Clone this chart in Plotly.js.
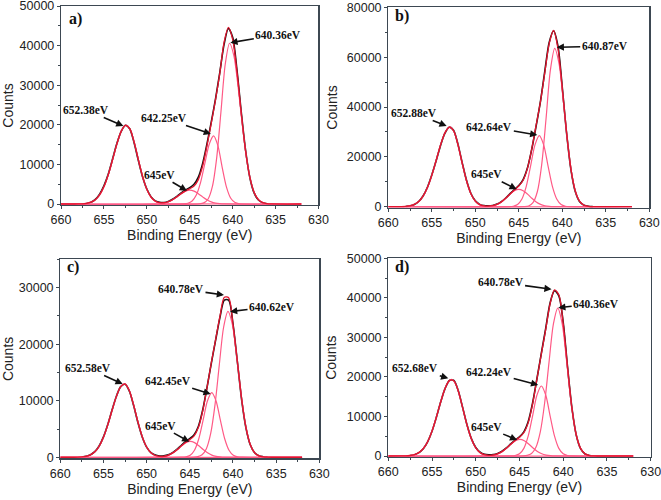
<!DOCTYPE html>
<html>
<head>
<meta charset="utf-8">
<script src="https://cdn.plot.ly/plotly-3.0.1.min.js"></script>
<style>html,body{margin:0;padding:0;background:#fff;}#chart{width:661px;height:500px;}</style>
</head>
<body>
<div id="chart"></div>
<script>
// ---------- DATA ----------
const energy = [660, 658.5, 658, 657.5, 657, 656.5, 656, 655.5, 655, 654.5, 654, 653.5, 653, 652.5, 652, 651.5, 651, 650.5, 650, 649.5, 649, 648.5, 648, 647.5, 647, 646.5, 646, 645.5, 645, 644.5, 644, 643.5, 643, 642.5, 642, 641.5, 641, 640.5, 640, 639.5, 639, 638.5, 638, 637.5, 637, 636.5, 636, 635.5, 632];

// panel a
const aFit = [0, 5, 18, 58, 175, 460, 1080, 2290, 4330, 7320, 11110, 15060, 18270, 19840, 19070, 15830, 11330, 6990, 3730, 1710, 710, 325, 313, 570, 1070, 1800, 2600, 3330, 3860, 4525, 6160, 9550, 14615, 20290, 26300, 33000, 40800, 44600, 41600, 33500, 23000, 13500, 6850, 2970, 1100, 345, 93, 20, 0];
const aExp = [null, null, null, 40, 150, 420, 1150, 2500, 4600, 7500, 11300, 15200, 18300, 19900, 19000, 15600, 11100, 6900, 3800, 1800, 800, 420, 380, 650, 1200, 1950, 2800, 3550, 4150, 5000, 6800, 10200, 15100, 20600, 26500, 33200, 40300, 44300, 42100, 33900, 23300, 13700, 6700, 2800, 1000, 300, 60, null, null];
const aC1X = [660, 657.88, 657.38, 656.88, 656.38, 655.88, 655.38, 654.88, 654.38, 653.88, 653.38, 652.88, 652.38, 651.88, 651.38, 650.88, 650.38, 649.88, 649.38, 648.88, 648.38, 647.88, 647.38, 632];
const aC1Y = [0, 25, 80, 220, 570, 1310, 2690, 4960, 8180, 12080, 15940, 18830, 19900, 18490, 14810, 10230, 6090, 3120, 1390, 530, 175, 50, 12, 0];
const aC2X = [660, 649, 648.5, 648, 647.5, 647, 646.5, 646, 645.5, 645, 644.5, 644, 643.5, 643, 642.5, 642, 641.5, 641, 632];
const aC2Y = [0, 30, 95, 245, 550, 1070, 1800, 2600, 3250, 3500, 3250, 2600, 1800, 1070, 550, 245, 95, 30, 0];
const aC3X = [660, 645.72, 645.22, 644.72, 644.22, 643.72, 643.22, 642.72, 642.22, 641.72, 641.22, 640.72, 640.22, 639.72, 639.22, 632];
const aC3Y = [0, 35, 190, 760, 2320, 5590, 10440, 15170, 17200, 14740, 9270, 4280, 1460, 360, 70, 0];
const aC4X = [660, 643.86, 643.36, 642.86, 642.36, 641.86, 641.36, 640.86, 640.36, 639.86, 639.36, 638.86, 638.36, 637.86, 637.36, 636.86, 636.36, 635.86, 632];
const aC4Y = [0, 45, 280, 1270, 4430, 11650, 23350, 35360, 40600, 37470, 29480, 19770, 11290, 5480, 2270, 810, 240, 60, 0];

// panel b
const bFit = [0, 45, 136, 377, 937, 2090, 4220, 7670, 12570, 18540, 24650, 29540, 31900, 30560, 24970, 17400, 10330, 5220, 2250, 830, 302, 210, 405, 940, 1930, 3380, 5105, 6720, 8290, 10630, 15475, 23365, 32810, 42330, 54000, 65500, 70700, 63500, 47500, 29500, 15000, 6240, 2110, 580, 130, 25, 5, 0, 0];
const bExp = [null, null, 100, 330, 900, 2100, 4300, 7800, 12700, 18400, 24500, 29400, 31900, 30700, 25200, 17600, 10500, 5300, 2350, 950, 420, 330, 520, 1050, 2050, 3500, 5250, 6900, 8500, 10900, 15600, 23200, 32500, 42500, 54600, 66000, 70600, 64500, 47800, 29300, 14700, 6000, 2000, 600, 150, 40, null, null, null];
const bC1X = [660, 658.38, 657.88, 657.38, 656.88, 656.38, 655.88, 655.38, 654.88, 654.38, 653.88, 653.38, 652.88, 652.38, 651.88, 651.38, 650.88, 650.38, 649.88, 649.38, 648.88, 648.38, 632];
const bC1Y = [0, 60, 175, 475, 1150, 2500, 4910, 8710, 13920, 20030, 25990, 30370, 32000, 29540, 23230, 15580, 8900, 4320, 1790, 640, 190, 50, 0];
const bC2X = [660, 649, 648.5, 648, 647.5, 647, 646.5, 646, 645.5, 645, 644.5, 644, 643.5, 643, 642.5, 642, 641.5, 641, 632];
const bC2Y = [0, 42, 140, 390, 940, 1930, 3380, 5050, 6410, 6950, 6410, 5050, 3380, 1930, 940, 390, 140, 42, 0];
const bC3X = [660, 646.14, 645.64, 645.14, 644.64, 644.14, 643.64, 643.14, 642.64, 642.14, 641.64, 641.14, 640.64, 640.14, 639.64, 639.14, 632];
const bC3Y = [0, 31, 194, 890, 3110, 8180, 16390, 24820, 28500, 24820, 16390, 8180, 3110, 890, 194, 31, 0];
const bC4X = [660, 644.37, 643.87, 643.37, 642.87, 642.37, 641.87, 641.37, 640.87, 640.37, 639.87, 639.37, 638.87, 638.37, 637.87, 637.37, 636.87, 632];
const bC4Y = [0, 45, 310, 1590, 5990, 16810, 35170, 54780, 63500, 57280, 42030, 25080, 12170, 4800, 1540, 400, 85, 0];

// panel c
const cFit = [0, 5, 19, 60, 170, 430, 965, 1955, 3540, 5730, 8310, 10770, 12500, 12980, 11770, 9210, 6210, 3610, 1810, 785, 310, 145, 169, 350, 730, 1300, 1970, 2608, 3120, 3784, 5299, 8250, 12370, 16800, 20900, 25000, 28300, 28200, 23500, 17100, 10400, 5310, 2270, 810, 240, 59, 12, 0, 0];
const cExp = [null, null, null, 60, 190, 460, 1000, 2000, 3600, 5800, 8400, 10800, 12500, 12900, 11700, 9100, 6100, 3550, 1800, 820, 380, 230, 260, 440, 820, 1400, 2080, 2750, 3300, 4000, 5500, 8400, 12400, 16700, 20800, 24800, 27800, 27800, 23600, 17000, 10200, 5200, 2200, 800, 260, 100, 40, null, null];
const cC1X = [660, 657.58, 657.08, 656.58, 656.08, 655.58, 655.08, 654.58, 654.08, 653.58, 653.08, 652.58, 652.08, 651.58, 651.08, 650.58, 650.08, 649.58, 649.08, 648.58, 648.08, 632];
const cC1Y = [0, 50, 145, 375, 860, 1760, 3240, 5340, 7890, 10410, 12300, 13000, 12080, 9670, 6680, 3980, 2040, 910, 350, 115, 30, 0];
const cC2X = [660, 648.95, 648.45, 647.95, 647.45, 646.95, 646.45, 645.95, 645.45, 644.95, 644.45, 643.95, 643.45, 642.95, 642.45, 641.95, 641.45, 640.95, 632];
const cC2Y = [0, 17, 56, 157, 380, 780, 1360, 2030, 2585, 2800, 2585, 2030, 1360, 780, 380, 157, 56, 17, 0];
const cC3X = [660, 645.96, 645.46, 644.96, 644.46, 643.96, 643.46, 642.96, 642.46, 641.96, 641.46, 640.96, 640.46, 639.96, 639.46, 638.96, 632];
const cC3Y = [0, 13, 78, 360, 1250, 3280, 6570, 9960, 11430, 9960, 6570, 3280, 1250, 360, 78, 13, 0];
const cC4X = [660, 644.58, 644.08, 643.58, 643.08, 642.58, 642.08, 641.58, 641.08, 640.58, 640.08, 639.58, 639.08, 638.58, 638.08, 637.58, 637.08, 636.58, 636.08, 632];
const cC4Y = [0, 18, 100, 436, 1520, 4210, 9300, 16390, 23040, 25800, 23550, 17910, 11350, 5990, 2630, 965, 294, 75, 15, 0];

// panel d
const dFit = [0, 12, 42, 130, 350, 850, 1855, 3610, 6300, 9820, 13710, 17120, 19130, 19050, 16430, 12220, 7840, 4340, 2070, 850, 322, 168, 239, 525, 1100, 1950, 2970, 3930, 4754, 5900, 8440, 13190, 19525, 25845, 32000, 38500, 42000, 40800, 33500, 22300, 12000, 5250, 1870, 535, 122, 22, 4, 0, 0];
const dExp = [null, null, null, 120, 340, 840, 1850, 3600, 6250, 9800, 13700, 17100, 19100, 19100, 16500, 12300, 7900, 4400, 2150, 950, 420, 280, 350, 640, 1200, 2050, 3050, 4000, 4850, 6100, 8700, 13400, 19600, 26000, 32300, 38700, 41800, 40500, 33800, 22400, 12100, 5200, 1800, 500, 150, 40, null, null, null];
const dC1X = [660, 657.75, 657.25, 656.75, 656.25, 655.75, 655.25, 654.75, 654.25, 653.75, 653.25, 652.75, 652.25, 651.75, 651.25, 650.75, 650.25, 649.75, 649.25, 648.75, 648.25, 632];
const dC1Y = [0, 78, 215, 560, 1280, 2620, 4830, 7970, 11780, 15540, 18350, 19400, 18020, 14430, 9970, 5940, 3050, 1360, 520, 175, 50, 0];
const dC2X = [660, 648.95, 648.45, 647.95, 647.45, 646.95, 646.45, 645.95, 645.45, 644.95, 644.45, 643.95, 643.45, 642.95, 642.45, 641.95, 641.45, 640.95, 632];
const dC2Y = [0, 25, 84, 235, 570, 1170, 2040, 3050, 3880, 4200, 3880, 3050, 2040, 1170, 570, 235, 84, 25, 0];
const dC3X = [660, 646, 645.5, 645, 644.5, 644, 643.5, 643, 642.5, 642, 641.5, 641, 640.5, 640, 639.5, 639, 632];
const dC3Y = [0, 20, 120, 554, 1930, 5080, 10180, 15420, 17700, 15420, 10180, 5080, 1930, 554, 120, 20, 0];
const dC4X = [660, 644.62, 644.12, 643.62, 643.12, 642.62, 642.12, 641.62, 641.12, 640.62, 640.12, 639.62, 639.12, 638.62, 638.12, 637.62, 637.12, 636.62, 632];
const dC4Y = [0, 26, 146, 630, 2200, 6100, 13460, 23750, 33400, 37400, 33510, 24160, 13990, 6510, 2430, 733, 176, 33, 0];

// labels
const panelLetters = ['a)', 'b)', 'c)', 'd)'];
const xTickVals = [660, 655, 650, 645, 640, 635, 630];
const aPeakLabels = ['652.38eV', '645eV', '642.25eV', '640.36eV'];
const bPeakLabels = ['652.88eV', '645eV', '642.64eV', '640.87eV'];
const cPeakLabels = ['652.58eV', '645eV', '642.45eV', '640.78eV', '640.62eV'];
const dPeakLabels = ['652.68eV', '645eV', '642.24eV', '640.78eV', '640.36eV'];

// ---------- STYLE ----------
const PINK = '#ff5a86';
const RED = '#e3142e';
const BLACK = '#111111';
const FRAME = '#3d4852';
const SANS = 'Liberation Sans, Arial, sans-serif';
const SERIF = 'Liberation Serif, Times New Roman, serif';

const traces = [];
function addPanel(n, fit, exp, comps) {
  const xa = n === 1 ? 'x' : 'x' + n;
  const ya = n === 1 ? 'y' : 'y' + n;
  traces.push({x: energy, y: exp, xaxis: xa, yaxis: ya, mode: 'lines', connectgaps: false,
    line: {color: BLACK, width: 1.6, shape: 'spline', smoothing: 0.8}, hoverinfo: 'skip', showlegend: false});
  comps.forEach(c => traces.push({x: c[0], y: c[1], xaxis: xa, yaxis: ya, mode: 'lines',
    line: {color: PINK, width: 1.2, shape: 'spline', smoothing: 0.8}, hoverinfo: 'skip', showlegend: false}));
  traces.push({x: energy, y: fit, xaxis: xa, yaxis: ya, mode: 'lines',
    line: {color: RED, width: 1.3, shape: 'spline', smoothing: 0.8}, hoverinfo: 'skip', showlegend: false});
}
addPanel(1, aFit, aExp, [[aC1X, aC1Y], [aC2X, aC2Y], [aC3X, aC3Y], [aC4X, aC4Y]]);
addPanel(2, bFit, bExp, [[bC1X, bC1Y], [bC2X, bC2Y], [bC3X, bC3Y], [bC4X, bC4Y]]);
addPanel(3, cFit, cExp, [[cC1X, cC1Y], [cC2X, cC2Y], [cC3X, cC3Y], [cC4X, cC4Y]]);
addPanel(4, dFit, dExp, [[dC1X, dC1Y], [dC2X, dC2Y], [dC3X, dC3Y], [dC4X, dC4Y]]);

function xAxis(domain, anchor) {
  return {domain: domain, anchor: anchor, range: [660, 630], tickvals: xTickVals,
    showline: true, mirror: true, linecolor: FRAME, linewidth: 1.2,
    ticks: 'outside', ticklen: 3, tickcolor: FRAME, tickwidth: 1,
    minor: {dtick: 2.5, tick0: 630, ticks: 'outside', ticklen: 2, tickcolor: FRAME},
    showgrid: false, zeroline: false, ticklabeloverflow: 'allow',
    tickfont: {family: SANS, size: 12.5, color: '#222'},
    title: {text: 'Binding Energy (eV)', font: {family: SANS, size: 14, color: '#222'}, standoff: 1}};
}
function yAxis(domain, anchor, range, dtick) {
  return {domain: domain, anchor: anchor, range: range, tick0: 0, dtick: dtick, tickformat: 'd',
    showline: true, mirror: true, linecolor: FRAME, linewidth: 1.2,
    ticks: 'outside', ticklen: 3, tickcolor: FRAME, tickwidth: 1,
    minor: {dtick: dtick / 2, ticks: 'outside', ticklen: 2, tickcolor: FRAME},
    showgrid: false, zeroline: false, ticklabeloverflow: 'allow',
    tickfont: {family: SANS, size: 12.5, color: '#222'},
    title: {text: 'Counts', font: {family: SANS, size: 14, color: '#222'}, standoff: 6}};
}

function peak(n, x, y, text, ax, ay) {
  const xa = n === 1 ? 'x' : 'x' + n;
  const ya = n === 1 ? 'y' : 'y' + n;
  return {xref: xa, yref: ya, x: x, y: y, text: text, showarrow: true, ax: ax, ay: ay,
    arrowhead: 2, arrowsize: 0.9, arrowwidth: 1.6, arrowcolor: BLACK,
    font: {family: SERIF, size: 11.5, color: BLACK, weight: 'bold'}};
}
function letter(i, px, py) {
  return {xref: 'paper', yref: 'paper', x: px / 661, y: 1 - py / 500, xanchor: 'center', yanchor: 'middle',
    text: panelLetters[i], showarrow: false, font: {family: SERIF, size: 16, color: BLACK, weight: 'bold'}};
}

const annotations = [
  letter(0, 75, 19), letter(1, 402, 16), letter(2, 73, 267), letter(3, 402, 267),
  peak(1, 652.73, 19700, aPeakLabels[0], -37, -16),
  peak(1, 645.33, 3360, aPeakLabels[1], -27, -16),
  peak(1, 642.53, 17700, aPeakLabels[2], -47, -16),
  peak(1, 640.27, 40730, aPeakLabels[3], 48, -8),
  peak(2, 653.29, 32380, bPeakLabels[0], -33, -13),
  peak(2, 645.24, 6980, bPeakLabels[1], -30, -15),
  peak(2, 642.87, 28770, bPeakLabels[2], -48, -8),
  peak(2, 640.64, 63950, bPeakLabels[3], 48, -1),
  peak(3, 652.77, 12970, cPeakLabels[0], -35, -16),
  peak(3, 645.06, 2760, cPeakLabels[1], -29, -16),
  peak(3, 642.58, 11200, cPeakLabels[2], -43, -13),
  peak(3, 641.04, 28710, cPeakLabels[3], -43, -6),
  peak(3, 640.34, 25760, cPeakLabels[4], 42, -5),
  peak(4, 653.14, 19650, dPeakLabels[0], -33, -10),
  peak(4, 645.26, 4050, dPeakLabels[1], -31, -13),
  peak(4, 642.86, 17960, dPeakLabels[2], -49, -13),
  peak(4, 641.33, 42160, dPeakLabels[3], -51, -7),
  peak(4, 640.57, 37500, dPeakLabels[4], 38, -4)
];

const layout = {
  width: 661, height: 500, margin: {l: 0, r: 0, t: 0, b: 0},
  paper_bgcolor: '#ffffff', plot_bgcolor: '#ffffff', showlegend: false,
  xaxis: xAxis([0.0923, 0.4818], 'y'),
  yaxis: yAxis([0.590, 0.988], 'x', [-250, 50000], 10000),
  xaxis2: xAxis([0.5874, 0.9823], 'y2'),
  yaxis2: yAxis([0.5846, 0.9854], 'x2', [-400, 80000], 20000),
  xaxis3: xAxis([0.0912, 0.4831], 'y3'),
  yaxis3: yAxis([0.0832, 0.4812], 'x3', [-200, 35000], 10000),
  xaxis4: xAxis([0.5874, 0.9844], 'y4'),
  yaxis4: yAxis([0.086, 0.4834], 'x4', [-250, 50000], 10000),
  annotations: annotations
};

Plotly.newPlot('chart', traces, layout, {staticPlot: true, displayModeBar: false});
</script>
</body>
</html>
